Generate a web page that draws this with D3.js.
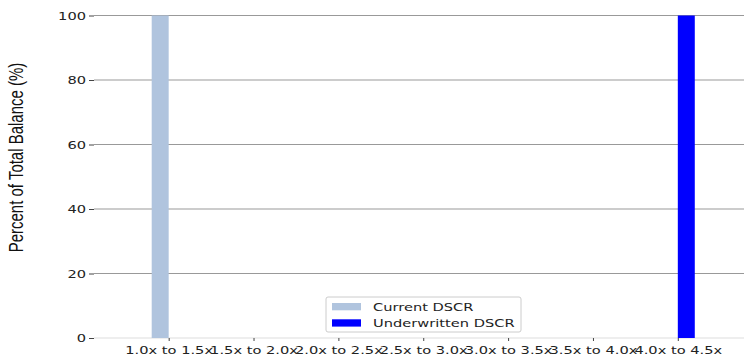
<!DOCTYPE html>
<meta charset="utf-8">
<head>
<style>
body { margin: 0; background: #fff; }
.tick text { font-family: "DejaVu Sans", sans-serif; font-size: 11px; fill: #222; }
.grid line { stroke: #999; stroke-width: 1.2px; }
</style>
</head>
<body>
<script src="https://d3js.org/d3.v7.min.js"></script>
<script>

// categories and values
var categories = ["1.0x to 1.5x", "1.5x to 2.0x", "2.0x to 2.5x", "2.5x to 3.0x",
                  "3.0x to 3.5x", "3.5x to 4.0x", "4.0x to 4.5x"];
var currentDSCR = [100, 0, 0, 0, 0, 0, 0];
var underwrittenDSCR = [0, 0, 0, 0, 0, 0, 100];
var yTicks = [0, 20, 40, 60, 80, 100];
var seriesNames = ["Current DSCR", "Underwritten DSCR"];
var seriesColors = ["#b0c4de", "#0000ff"];

var width = 744, height = 361;
var stretch = 1.33; // text in the picture is drawn wide

var svg = d3.select("body").append("svg")
    .attr("width", width)
    .attr("height", height);

// x: category index -> pixel
var x = d3.scaleLinear()
  .domain([-0.88, 6.78])
  .range([94, 744]);

var y = d3.scaleLinear()
  .domain([0, 100])
  .range([338, 15.5]);

var barW = x(0.2) - x(0);

// gridlines
svg.append("g")
    .attr("class", "grid")
  .selectAll("line")
  .data(yTicks.filter(function(d) { return d > 0; }))
  .enter().append("line")
    .attr("x1", x.range()[0])
    .attr("x2", x.range()[1])
    .attr("y1", function(d) { return y(d); })
    .attr("y2", function(d) { return y(d); });

// bottom spine
svg.append("line")
    .attr("x1", x.range()[0]).attr("x2", x.range()[1])
    .attr("y1", y(0)).attr("y2", y(0))
    .attr("stroke", "#ddd");

// bars
var series = [currentDSCR, underwrittenDSCR];
series.forEach(function(vals, s) {
  svg.append("g").selectAll("rect")
    .data(vals)
    .enter().append("rect")
      .attr("x", function(d, i) { return s == 0 ? x(i) - barW : x(i); })
      .attr("width", barW)
      .attr("y", function(d) { return y(d); })
      .attr("height", function(d) { return y(0) - y(d); })
      .attr("fill", seriesColors[s]);
});

// y axis
var yAxis = svg.append("g")
    .attr("transform", "translate(" + x.range()[0] + ",0)")
    .call(d3.axisLeft(y).tickValues(yTicks).tickSize(5).tickPadding(3));
yAxis.select(".domain").remove();
yAxis.selectAll(".tick line").attr("stroke", "#444");
yAxis.selectAll(".tick text")
    .attr("x", -8 / stretch)
    .attr("transform", "scale(" + stretch + ",1)");

// x axis
var xAxis = svg.append("g")
    .attr("transform", "translate(0," + y(0) + ")")
    .call(d3.axisBottom(x)
      .tickValues(d3.range(categories.length))
      .tickFormat(function(i) { return categories[i]; })
      .tickSize(3).tickPadding(5));
xAxis.select(".domain").remove();
xAxis.selectAll(".tick line").attr("stroke", "#444");
xAxis.selectAll(".tick text")
    .attr("transform", "scale(" + stretch + ",1)");

// y label
svg.append("text")
    .attr("transform", "translate(23,157.5) scale(" + stretch + ",1) rotate(-90)")
    .attr("text-anchor", "middle")
    .style("font-family", "Liberation Sans, Arial, sans-serif")
    .style("font-size", "15px")
    .style("fill", "#111")
    .text("Percent of Total Balance (%)");

// legend
var legend = svg.append("g").attr("transform", "translate(326,297)");
legend.append("rect")
    .attr("width", 195).attr("height", 35)
    .attr("rx", 2)
    .attr("fill", "#fff").attr("fill-opacity", 0.8)
    .attr("stroke", "#ccc");
seriesNames.forEach(function(name, i) {
  legend.append("rect")
      .attr("x", 6).attr("y", 6 + i * 16.3)
      .attr("width", 29).attr("height", 7.3)
      .attr("fill", seriesColors[i]);
  legend.append("text")
      .attr("x", 47 / stretch).attr("y", 14 + i * 16.3)
      .attr("transform", "scale(" + stretch + ",1)")
      .style("font-family", "DejaVu Sans, sans-serif")
      .style("font-size", "11px")
      .style("fill", "#222")
      .text(name);
});

</script>
</body>
